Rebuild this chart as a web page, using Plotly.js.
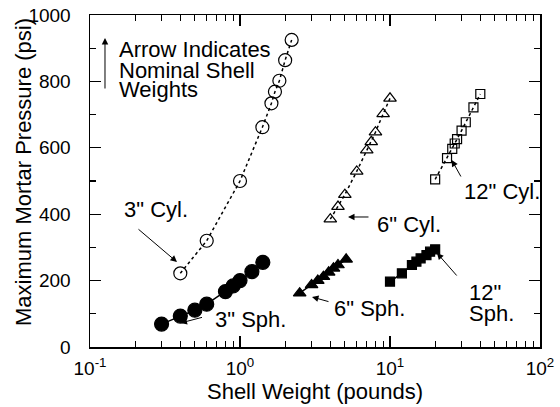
<!DOCTYPE html>
<html>
<head>
<meta charset="utf-8">
<script src="https://cdn.plot.ly/plotly-3.0.1.min.js"></script>
<style>
  html, body { margin: 0; padding: 0; background: #fff; }
  #chart { width: 560px; height: 407px; }
</style>
</head>
<body>
<div id="chart"></div>
<script>
// Shell weight (pounds) vs. maximum mortar pressure (psi)
const cyl3Weight = [0.4, 0.6, 1.0, 1.41, 1.62, 1.71, 1.83, 2.0, 2.21];
const cyl3Pressure = [222, 320, 500, 662, 734, 769, 802, 864, 925];

const sph3Weight = [0.3, 0.4, 0.5, 0.6, 0.8, 0.9, 1.0, 1.2, 1.42];
const sph3Pressure = [69, 93, 111, 129, 167, 184, 200, 227, 255];

const cyl6Weight = [4.0, 4.5, 5.0, 6.0, 7.0, 7.5, 8.0, 9.0, 10.0];
const cyl6Pressure = [385, 423, 459, 529, 593, 618, 647, 702, 749];

const sph6Weight = [2.5, 3.0, 3.3, 3.6, 3.9, 4.2, 4.5, 5.1];
const sph6Pressure = [162, 187, 200, 212, 225, 237, 247, 264];

const cyl12Weight = [20, 24, 26, 27, 28, 30, 32, 36, 40];
const cyl12Pressure = [505, 569, 597, 613, 626, 652, 677, 722, 762];

const sph12Weight = [10, 12, 14, 15, 16, 17.5, 18.5, 20];
const sph12Pressure = [197, 222, 247, 257, 267, 277, 287, 294];

const xTickVals = [0.1, 1, 10, 100];
const xTickText = ['10<sup>-1</sup>', '10<sup>0</sup>', '10<sup>1</sup>', '10<sup>2</sup>'];
const xMinorVals = [];
[0.1, 1, 10].forEach(d => { for (let k = 2; k <= 9; k++) xMinorVals.push(+(d * k).toPrecision(3)); });

const FONT = "'Liberation Sans', Arial, Helvetica, sans-serif";

function series(x, y, symbol, size, dash) {
  return {
    x: x, y: y, type: 'scatter', mode: 'lines+markers',
    line: { color: '#000', width: 1.5, dash: dash },
    marker: { symbol: symbol, size: size, color: '#000', line: { color: '#000', width: 1.2 } },
    showlegend: false, hoverinfo: 'x+y'
  };
}

const traces = [
  series(cyl3Weight, cyl3Pressure, 'circle-open', 13, 'dot'),
  series(sph3Weight, sph3Pressure, 'circle', 14, 'solid'),
  series(cyl6Weight, cyl6Pressure, 'triangle-up-open', 11, 'dot'),
  series(sph6Weight, sph6Pressure, 'triangle-up', 11, 'solid'),
  series(cyl12Weight, cyl12Pressure, 'square-open', 9, 'dot'),
  series(sph12Weight, sph12Pressure, 'square', 9, 'solid')
];

// Text labels (paper coordinates) and pointer arrows
function label(text, x, y, anchor) {
  return { text: text, x: x, y: y, xref: 'paper', yref: 'paper',
           xanchor: anchor || 'left', yanchor: 'middle', showarrow: false,
           font: { family: FONT, size: 22, color: '#000' } };
}
function pointer(x, y, ax, ay) {
  return { text: '', x: x, y: y, xref: 'paper', yref: 'paper', ax: ax, ay: ay,
           showarrow: true, arrowhead: 2, arrowsize: 1.3, arrowwidth: 1,
           arrowcolor: '#000', standoff: 0 };
}

const annotations = [
  label('3" Cyl.', 0.1456, 0.4127, 'center'),
  label('3" Sph.', 0.2733, 0.0843),
  label('6" Cyl.', 0.6333, 0.3675),
  label('6" Sph.', 0.5378, 0.1145),
  label('12" Cyl.', 0.8267, 0.4669),
  label('12"', 0.8378, 0.1642),
  label('Sph.', 0.8378, 0.1024),
  label('Arrow Indicates', 0.06, 0.8946),
  label('Nominal Shell', 0.06, 0.8343),
  label('Weights', 0.06, 0.7741),
  pointer(0.1933, 0.256, -40, -34),
  pointer(0.2011, 0.0723, 23, -6),
  pointer(0.5733, 0.3916, 22, 0),
  pointer(0.4933, 0.1506, 18, 5),
  pointer(0.8038, 0.5633, 10, 18),
  pointer(0.7711, 0.2831, 21, 24),
  pointer(0.0333, 0.9307, 0, 52),
  // vertical axis title
  { text: 'Maximum Mortar Pressure (psi)', x: -0.149, y: 0.527, xref: 'paper', yref: 'paper',
    xanchor: 'center', yanchor: 'middle', textangle: -90, showarrow: false,
    font: { family: FONT, size: 22, color: '#000' } }
];

const layout = {
  width: 560, height: 407,
  margin: { l: 90, r: 20, t: 15, b: 60 },
  paper_bgcolor: '#fff', plot_bgcolor: '#fff',
  font: { family: FONT, size: 19, color: '#000' },
  xaxis: {
    type: 'log', range: [-1, 2], automargin: false,
    tickmode: 'array', tickvals: xTickVals, ticktext: xTickText,
    ticks: 'inside', ticklen: 11, tickwidth: 1.2, tickcolor: '#000',
    minor: { tickmode: 'array', tickvals: xMinorVals, ticks: 'inside', ticklen: 6, tickwidth: 1.2, tickcolor: '#000', showgrid: false },
    showline: true, linecolor: '#000', linewidth: 1.5, mirror: 'ticks',
    showgrid: false, zeroline: false, ticklabelstandoff: 4,
    tickfont: { family: FONT, size: 19 },
    title: { text: 'Shell Weight (pounds)', font: { family: FONT, size: 22 }, standoff: 4 }
  },
  yaxis: {
    range: [0, 1000], tickmode: 'linear', tick0: 0, dtick: 200, automargin: false,
    ticks: 'inside', ticklen: 11, tickwidth: 1.2, tickcolor: '#000',
    minor: { dtick: 100, ticks: 'inside', ticklen: 6, tickwidth: 1.2, tickcolor: '#000', showgrid: false },
    showline: true, linecolor: '#000', linewidth: 1.5, mirror: 'ticks',
    showgrid: false, zeroline: false, ticklabelstandoff: 14,
    tickfont: { family: FONT, size: 19 }
  },
  annotations: annotations
};

Plotly.newPlot('chart', traces, layout, { staticPlot: true, displayModeBar: false });
</script>
</body>
</html>
